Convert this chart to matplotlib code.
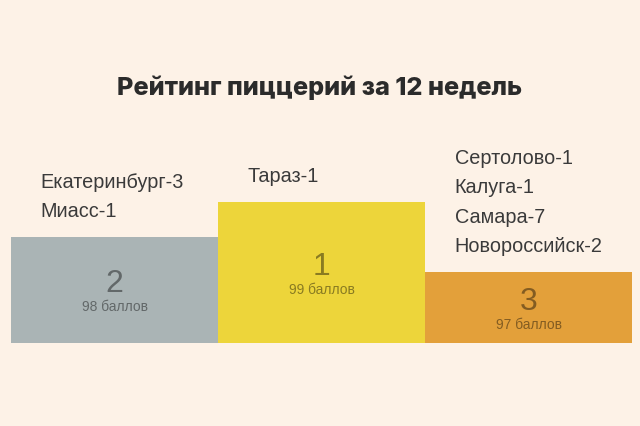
# Podium chart: pizzeria ranking over 12 weeks
import matplotlib.pyplot as plt

places = ["2", "1", "3"]
scores = [98, 99, 97]
score_labels = ["98 баллов", "99 баллов", "97 баллов"]
cities = [
    ["Екатеринбург-3", "Миасс-1"],
    ["Тараз-1"],
    ["Сертолово-1", "Калуга-1", "Самара-7", "Новороссийск-2"],
]
colors = ["#aab4b5", "#edd53a", "#e3a03a"]

bg = "#fdf2e7"
base = 97 - 71 / 35  # podium floor in score units

fig = plt.figure(figsize=(6.4, 4.26), dpi=100, facecolor=bg)
ax = fig.add_axes([11 / 640, 1 - 343 / 426, 621 / 640, 213 / 426])
ax.set_facecolor(bg)
ax.set_xlim(-0.5, 2.5)
ax.set_ylim(base, base + 213 / 35)
ax.axis("off")

x = range(len(scores))
heights = [s - base for s in scores]
ax.bar(x, heights, bottom=base, width=1.0, color=colors, edgecolor="none")

for i, s in enumerate(scores):
    mid = base + (s - base) / 2
    ax.annotate(places[i], (i, mid), xytext=(0, 4), textcoords="offset points",
                ha="center", va="center", fontsize=23, color="black", alpha=0.42,
                family="Liberation Sans")
    ax.annotate(score_labels[i], (i, mid), xytext=(0, -12.5), textcoords="offset points",
                ha="center", va="center", fontsize=10, color="black", alpha=0.42,
                family="Liberation Sans")
    # city list stacked above the step
    n = len(cities[i])
    for j, name in enumerate(cities[i]):
        ax.annotate(name, (i - 0.5, s), xytext=(21.5, 18.5 + (n - 1 - j) * 21),
                    textcoords="offset points", ha="left", va="center",
                    fontsize=14.3, color="#3a3a3a", family="Liberation Sans")

fig.text(0.5, 1 - 88 / 426, "Рейтинг пиццерий за 12 недель", ha="center", va="center",
         fontsize=18.2, fontweight="heavy", color="#2b2b2b",
         family=["Inter", "DejaVu Sans"])

plt.savefig("out.png", dpi=100, facecolor=bg)
